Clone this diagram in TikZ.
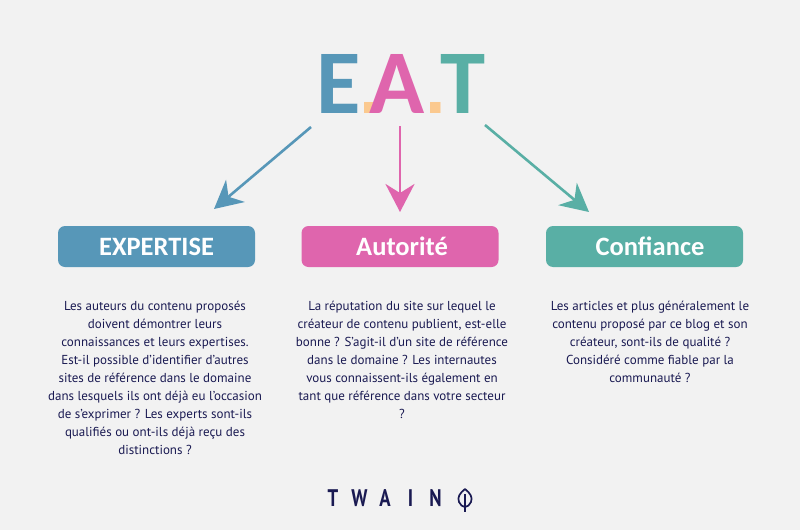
\documentclass[tikz,border=0pt]{standalone}
\usepackage{fontspec}
\setmainfont{PT Sans}
\newfontfamily\headfont{Carlito}
\newfontfamily\dotfont{Liberation Sans}
\usetikzlibrary{arrows.meta}
\definecolor{bluecol}{HTML}{5797B8}
\definecolor{pinkcol}{HTML}{DF65AD}
\definecolor{greencol}{HTML}{59AFA5}
\definecolor{dotcol}{HTML}{FBC98F}
\definecolor{navycol}{HTML}{1A1A52}
\definecolor{bgcol}{HTML}{F2F2F2}
\tikzset{
  letter/.style={
    inner sep=0pt,
    anchor=base,
    font=\headfont\fontsize{91}{91}\selectfont\bfseries
  },
  dotletter/.style={
    inner sep=0pt,
    anchor=base,
    text=dotcol,
    font=\dotfont\fontsize{74}{74}\selectfont\bfseries
  },
  headbox/.style={
    rounded corners=7pt,
    minimum width=197pt,
    minimum height=41pt,
    inner sep=0pt,
    text=white,
    font=\headfont\fontsize{26.5}{26.5}\selectfont\bfseries
  },
  bodytext/.style={
    inner sep=0pt,
    align=center,
    text=navycol,
    font=\fontsize{13}{18}\selectfont
  },
  logoletter/.style={
    inner sep=0pt,
    text=navycol,
    xscale=.78,
    transform shape,
    font=\fontsize{24}{24}\selectfont\bfseries
  },
  link/.style={
    line width=2.6pt,
    -{Stealth[length=28pt,width=29pt,inset=9pt]}
  }
}
\begin{document}
\begin{tikzpicture}[x=1pt,y=-1pt]
    \useasboundingbox (0,0) rectangle (800,530);
    \fill[bgcol] (0,0) rectangle (800,530);
    % title
    \node[letter,text=bluecol] (e) at (339,113) {E};
    \node[dotletter] (dot1) at (369.5,113) {.};
    \node[letter,text=pinkcol] (a) at (397.5,113) {A};
    \node[dotletter] (dot2) at (436,113) {.};
    \node[letter,text=greencol] (t) at (463,113) {T};
    % ends of the arrows
    \coordinate (estart) at (311,127);
    \coordinate (eend) at (214,209);
    \coordinate (astart) at (400,126);
    \coordinate (aend) at (400,212);
    \coordinate (tstart) at (485,125);
    \coordinate (tend) at (589,212);
    \draw[link,bluecol] (estart) -- (eend);
    \draw[link,pinkcol] (astart) -- (aend);
    \draw[link,greencol] (tstart) -- (tend);
    % boxes
    \node[headbox,fill=bluecol] (expertise) at (156.5,246.5) {EXPERTISE};
    \node[headbox,fill=pinkcol] (autorite) at (400,246.5) {\hspace{4pt}Autorité};
    \node[headbox,fill=greencol] (confiance) at (644.5,246.5) {\hspace{11pt}Confiance};
    % texts
    \node[bodytext,anchor=north] (exptext) at (155,301) {Les auteurs du contenu proposés\\
      doivent démontrer leurs\\
      connaissances et leurs expertises.\\
      Est-il possible d'identifier d'autres\\
      sites de référence dans le domaine\\
      dans lesquels ils ont déjà eu l'occasion\\
      de s'exprimer ? Les experts sont-ils\\
      qualifiés ou ont-ils déjà reçu des\\
      distinctions ?};
    \node[bodytext,anchor=north] (auttext) at (402,301) {La réputation du site sur lequel le\\
      créateur de contenu publient, est-elle\\
      bonne ? S'agit-il d'un site de référence\\
      dans le domaine ? Les internautes\\
      vous connaissent-ils également en\\
      tant que référence dans votre secteur\\
      ?};
    \node[bodytext,anchor=north] (conftext) at (650,301) {Les articles et plus généralement le\\
      contenu proposé par ce blog et son\\
      créateur, sont-ils de qualité ?\\
      Considéré comme fiable par la\\
      communauté ?};
    % logo
    \node[logoletter] (logot) at (333,498) {T};
    \node[logoletter] (logow) at (359.5,498) {W};
    \node[logoletter] (logoa) at (385,498) {A};
    \node[logoletter] (logoi) at (410.5,498) {I};
    \node[logoletter] (logon) at (435.5,498) {N};
    \draw[navycol,line width=1.7pt,line join=round] (465,489) .. controls (460,493) and (457,497) .. (459,502)
      .. controls (460,505) and (463,507) .. (465,507)
      .. controls (467,507) and (470,505) .. (471,502)
      .. controls (473,497) and (470,493) .. (465,489) -- cycle;
    \draw[navycol,line width=1.7pt] (465,494) -- (465,512);
\end{tikzpicture}
\end{document}
